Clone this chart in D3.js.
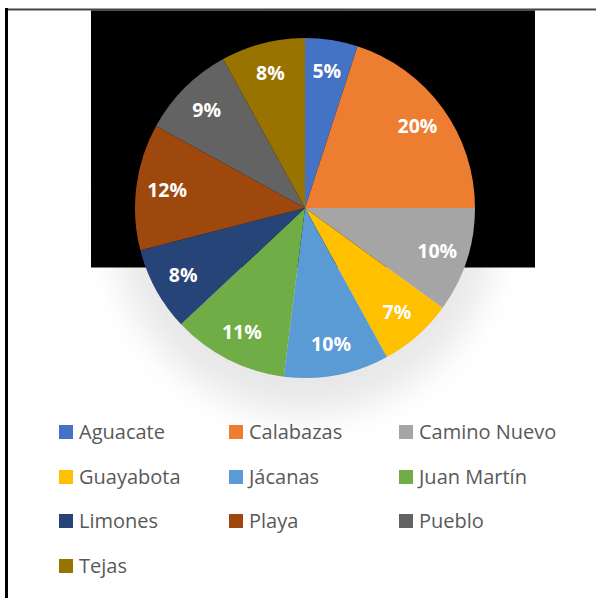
<!DOCTYPE html>
<html>
<head>
<meta charset="utf-8">
<script src="https://cdn.jsdelivr.net/npm/d3@7"></script>
<style>
  html, body { margin: 0; padding: 0; background: #fff; }
  svg { display: block; }
</style>
</head>
<body>
<svg id="chart" width="596" height="598"></svg>
<script>
// Share of each community (percent)
const categories = ["Aguacate", "Calabazas", "Camino Nuevo", "Guayabota", "Jácanas",
                    "Juan Martín", "Limones", "Playa", "Pueblo", "Tejas"];
const values = [5, 20, 10, 7, 10, 11, 8, 12, 9, 8];
const colors = ["#4472C4", "#ED7D31", "#A5A5A5", "#FFC000", "#5B9BD5",
                "#70AD47", "#264478", "#9E480E", "#636363", "#997300"];

const data = categories.map((c, i) => ({ name: c, value: values[i], color: colors[i] }));

const svg = d3.select("#chart");
const W = 596, H = 598;
const cx = 305, cy = 208, R = 170;

// soft drop shadow for the pie
const defs = svg.append("defs");
const f = defs.append("filter").attr("id", "shadow")
  .attr("x", "-50%").attr("y", "-50%").attr("width", "200%").attr("height", "200%");
f.append("feGaussianBlur").attr("stdDeviation", 18);

// frame lines
svg.append("line").attr("x1", 5).attr("x2", W).attr("y1", 9.5).attr("y2", 9.5)
  .attr("stroke", "#444").attr("stroke-width", 2);
svg.append("line").attr("x1", 6.5).attr("x2", 6.5).attr("y1", 8).attr("y2", H)
  .attr("stroke", "#000").attr("stroke-width", 3);

// shadow behind the pie
svg.append("circle").attr("cx", cx).attr("cy", cy + 16).attr("r", R + 20)
  .attr("fill", "#000").attr("opacity", 0.09).attr("filter", "url(#shadow)");

// black plot backdrop
svg.append("rect").attr("x", 91).attr("y", 10.5).attr("width", 444).attr("height", 257)
  .attr("fill", "#000");

const pie = d3.pie().value(d => d.value).sort(null);
const arcs = pie(data);
const arc = d3.arc().innerRadius(0).outerRadius(R);
const labelArc = d3.arc().innerRadius(139).outerRadius(139);

const g = svg.append("g").attr("transform", `translate(${cx},${cy})`);
g.selectAll("path.slice").data(arcs).enter().append("path")
  .attr("class", "slice")
  .attr("d", arc)
  .attr("fill", d => d.data.color);

g.selectAll("text.lbl").data(arcs).enter().append("text")
  .attr("class", "lbl")
  .attr("transform", d => `translate(${labelArc.centroid(d)})`)
  .attr("text-anchor", "middle")
  .attr("dy", "0.35em")
  .attr("fill", "#fff")
  .attr("font-family", "'Open Sans', sans-serif")
  .attr("font-weight", 700)
  .attr("font-size", 19.5)
  .text(d => d3.format(".0%")(d.data.value / 100));

// legend: three columns
const colX = [59, 229, 399];
const rowY = [432, 477, 521, 566];
const lg = svg.append("g");
data.forEach((d, i) => {
  const x = colX[i % 3], y = rowY[Math.floor(i / 3)];
  lg.append("rect").attr("x", x).attr("y", y - 7).attr("width", 14).attr("height", 14)
    .attr("fill", d.color);
  lg.append("text").attr("x", x + 20).attr("y", y).attr("dy", "0.35em")
    .attr("fill", "#595959")
    .attr("font-family", "'Open Sans', sans-serif")
    .attr("font-size", 20)
    .text(d.name);
});
</script>
</body>
</html>
